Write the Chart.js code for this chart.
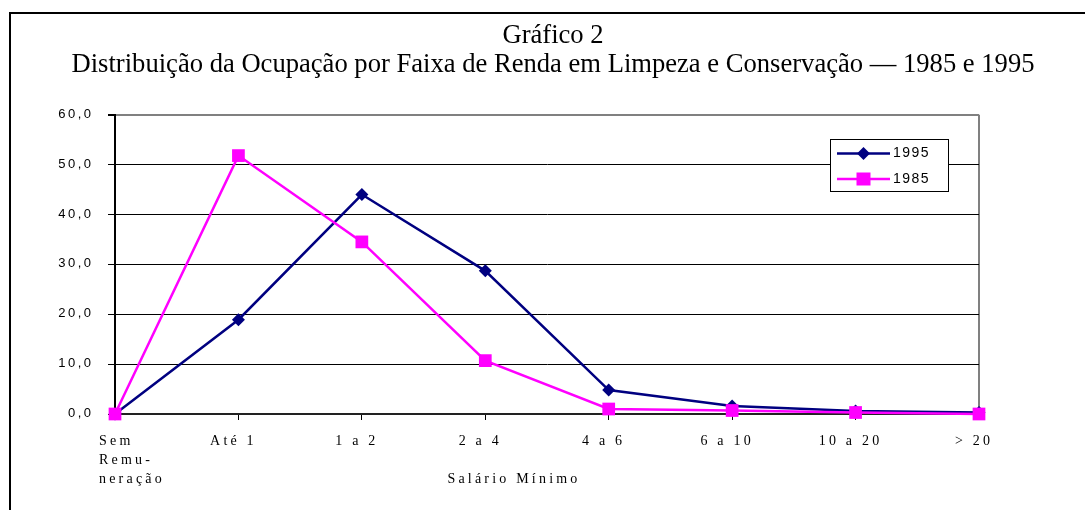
<!DOCTYPE html>
<html><head><meta charset="utf-8">
<script src="https://cdn.jsdelivr.net/npm/chart.js@4.4.1/dist/chart.umd.min.js"></script>
<style>html,body{margin:0;padding:0;background:#fff;} canvas{display:block;}</style>
</head><body>
<canvas id="c" width="1085" height="510"></canvas>
<script>
const titleLines = ['Gráfico 2', 'Distribuição da Ocupação por Faixa de Renda em Limpeza e Conservação — 1985 e 1995'];
const categories = [['Sem','Remu-','neração'], 'Até 1', '1 a 2', '2 a 4', '4 a 6', '6 a 10', '10 a 20', '> 20'];
const series1995 = [0.0, 18.9, 44.0, 28.7, 4.8, 1.6, 0.6, 0.3];
const series1985 = [0.0, 51.8, 34.5, 10.7, 1.0, 0.7, 0.3, 0.0];
const yTickValues = [0, 10, 20, 30, 40, 50, 60];
const yTickLabels = ['0,0','10,0','20,0','30,0','40,0','50,0','60,0'];
const xAxisTitle = 'Salário Mínimo';
const seriesNames = ['1995', '1985'];
const colors = ['#000080', '#FF00FF'];

const serif = '"Liberation Serif", "Times New Roman", serif';
const sans = '"Liberation Sans", Arial, sans-serif';

const decor = {
  id: 'decor',
  beforeDraw(chart) {
    const ctx = chart.ctx;
    ctx.save();
    ctx.fillStyle = '#fff';
    ctx.fillRect(0, 0, chart.width, chart.height);
    ctx.strokeStyle = '#000';
    ctx.lineWidth = 2;
    ctx.beginPath();
    ctx.moveTo(10, chart.height);
    ctx.lineTo(10, 13);
    ctx.lineTo(chart.width, 13);
    ctx.stroke();
    ctx.restore();
  },
  afterDraw(chart) {
    const ctx = chart.ctx, xs = chart.scales.x, ys = chart.scales.y;
    ctx.save();
    ctx.fillStyle = '#000';
    // y tick labels
    ctx.font = '13px ' + sans;
    ctx.letterSpacing = '2.5px';
    ctx.textAlign = 'right';
    ctx.textBaseline = 'middle';
    yTickValues.forEach((v, i) => {
      ctx.fillText(yTickLabels[i], xs.left - 21.5, ys.getPixelForValue(v) - 0.5);
    });
    // x tick labels
    ctx.font = '14px ' + serif;
    ctx.letterSpacing = '3.2px';
    ctx.textBaseline = 'alphabetic';
    categories.forEach((lab, i) => {
      const px = xs.getPixelForValue(i);
      if (Array.isArray(lab)) {
        ctx.textAlign = 'left';
        lab.forEach((ln, j) => ctx.fillText(ln, px - 16, 445 + j * 19));
      } else {
        ctx.textAlign = 'center';
        ctx.fillText(lab, px - 5, 445);
      }
    });
    // axis title
    ctx.textAlign = 'center';
    ctx.fillText(xAxisTitle, 514, 483);
    // legend
    const lx = 830, ly = 139, lw = 118, lh = 52;
    ctx.fillStyle = '#fff';
    ctx.fillRect(lx, ly, lw, lh);
    ctx.strokeStyle = '#000';
    ctx.lineWidth = 1;
    ctx.strokeRect(lx + 0.5, ly + 0.5, lw, lh);
    const rows = [153.5, 179];
    seriesNames.forEach((name, i) => {
      const y = rows[i];
      ctx.strokeStyle = colors[i];
      ctx.lineWidth = 2.5;
      ctx.beginPath();
      ctx.moveTo(837, y);
      ctx.lineTo(890, y);
      ctx.stroke();
      ctx.fillStyle = colors[i];
      const cx = 863.5;
      if (i === 0) {
        ctx.beginPath();
        ctx.moveTo(cx, y - 6.5);
        ctx.lineTo(cx + 6.5, y);
        ctx.lineTo(cx, y + 6.5);
        ctx.lineTo(cx - 6.5, y);
        ctx.closePath();
        ctx.fill();
      } else {
        ctx.fillRect(cx - 7, y - 6.5, 14, 13);
      }
      ctx.fillStyle = '#000';
      ctx.font = '14px ' + sans;
      ctx.letterSpacing = '1.5px';
      ctx.textAlign = 'left';
      ctx.textBaseline = 'middle';
      ctx.fillText(name, 893, y);
    });
    ctx.restore();
  }
};

new Chart(document.getElementById('c'), {
  type: 'line',
  data: {
    labels: categories,
    datasets: [
      { label: seriesNames[1], data: series1985, borderColor: colors[1], backgroundColor: colors[1],
        borderWidth: 2.5, pointStyle: 'rect', pointRadius: 9, pointHoverRadius: 9, pointBorderWidth: 0,
        tension: 0, clip: false, order: 0 },
      { label: seriesNames[0], data: series1995, borderColor: colors[0], backgroundColor: colors[0],
        borderWidth: 2.5, pointStyle: 'rectRot', pointRadius: 6.5, pointHoverRadius: 6.5, pointBorderWidth: 0,
        tension: 0, clip: false, order: 1 }
    ]
  },
  options: {
    responsive: false,
    animation: false,
    events: [],
    layout: { padding: { left: 21, right: 0, top: 0, bottom: 0 } },
    plugins: {
      legend: { display: false },
      tooltip: { enabled: false },
      title: {
        display: true,
        text: titleLines,
        color: '#000',
        font: { family: serif, size: 26.6, weight: 'normal', lineHeight: 1.09 },
        padding: { top: 22, bottom: 34.7 }
      }
    },
    scales: {
      x: {
        type: 'category',
        offset: false,
        ticks: { display: false },
        grid: {
          drawOnChartArea: true,
          drawTicks: true,
          tickLength: 6,
          tickColor: '#000',
          color: c => c.index === categories.length - 1 ? '#808080' : 'rgba(0,0,0,0)',
          lineWidth: c => c.index === categories.length - 1 ? 2 : 1
        },
        border: { display: true, color: '#222', width: 2 },
        afterFit(s) { s.height = 96; }
      },
      y: {
        min: 0, max: 60,
        ticks: { display: false, stepSize: 10 },
        grid: {
          color: c => c.tick.value === 60 ? '#808080' : '#000',
          lineWidth: c => c.tick.value === 60 ? 2 : 1,
          tickColor: '#000',
          tickLength: 7
        },
        border: { display: true, color: '#000', width: 2 },
        afterFit(s) { s.width = 94; }
      },
      yR: {
        position: 'right',
        min: 0, max: 60,
        ticks: { display: false },
        grid: { display: false },
        border: { display: false },
        afterFit(s) { s.width = 106; }
      }
    }
  },
  plugins: [decor]
});
</script>
</body></html>
